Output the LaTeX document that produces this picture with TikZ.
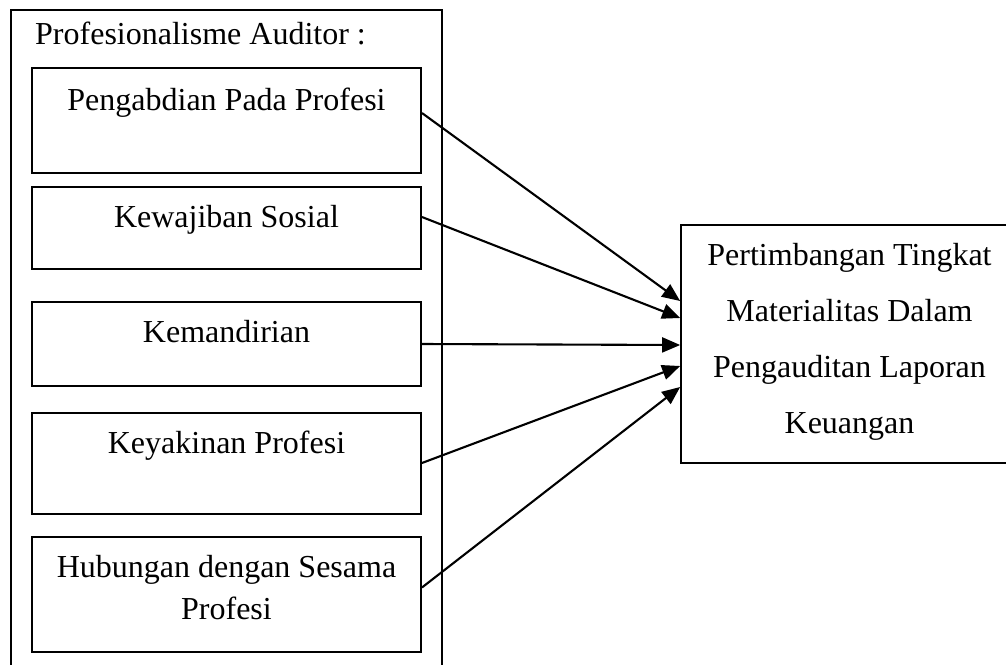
\documentclass[tikz,border=0pt]{standalone}
\usepackage{fontspec}
\setmainfont{Liberation Serif}
\usetikzlibrary{arrows.meta}
\begin{document}
\begin{tikzpicture}[x=1pt,y=-1pt,
  frame/.style={draw, line width=1.7pt, inner sep=0pt},
  box/.style={draw, line width=1.9pt, minimum width=389pt, inner sep=0pt},
  txt/.style={anchor=base, inner sep=0pt, font=\fontsize{32}{38}\selectfont},
  arr/.style={line width=2.1pt, -{Triangle[length=18pt,width=15pt]}}]
\path[use as bounding box, clip] (0,0) rectangle (1006,664);
% outer frame (bottom runs off the page)
\node[frame, minimum width=431pt, minimum height=700pt] (outer) at (226.5,360) {};
\node[txt, anchor=base west] (title) at (35,44) {Profesionalisme Auditor :};
% inner boxes
\node[box, minimum height=105pt] (b1) at (226.5,120.5) {};
\node[box, minimum height=82pt]  (b2) at (226.5,228) {};
\node[box, minimum height=84pt]  (b3) at (226.5,344) {};
\node[box, minimum height=101pt] (b4) at (226.5,463.5) {};
\node[box, minimum height=115pt] (b5) at (226.5,594.5) {};
\node[txt] (t1) at (226.5,110) {Pengabdian Pada Profesi};
\node[txt] (t2) at (226.5,227) {Kewajiban Sosial};
\node[txt] (t3) at (226.5,342) {Kemandirian};
\node[txt] (t4) at (226.5,453) {Keyakinan Profesi};
\node[txt] (t5a) at (226.5,577) {Hubungan dengan Sesama};
\node[txt] (t5b) at (226.5,619) {Profesi};
% right box (right side runs off the page)
\node[frame, minimum width=339pt, minimum height=238pt] (r) at (850.5,344) {};
\node[txt] (r1) at (849.5,265) {Pertimbangan Tingkat};
\node[txt] (r2) at (849.5,321) {Materialitas Dalam};
\node[txt] (r3) at (849.5,377) {Pengauditan Laporan};
\node[txt] (r4) at (849.5,433) {Keuangan};
% arrows
\draw[arr] ([yshift=7.5pt]b1.east) -- ([yshift=43pt]r.west);
\draw[arr] ([yshift=11pt]b2.east) -- ([yshift=26pt]r.west);
\draw[arr] (b3.east) -- ([yshift=-1pt]r.west);
\draw[arr] ([yshift=0.5pt]b4.east) -- ([yshift=-22pt]r.west);
\draw[arr] ([yshift=7pt]b5.east) -- ([yshift=-43pt]r.west);
\end{tikzpicture}
\end{document}
